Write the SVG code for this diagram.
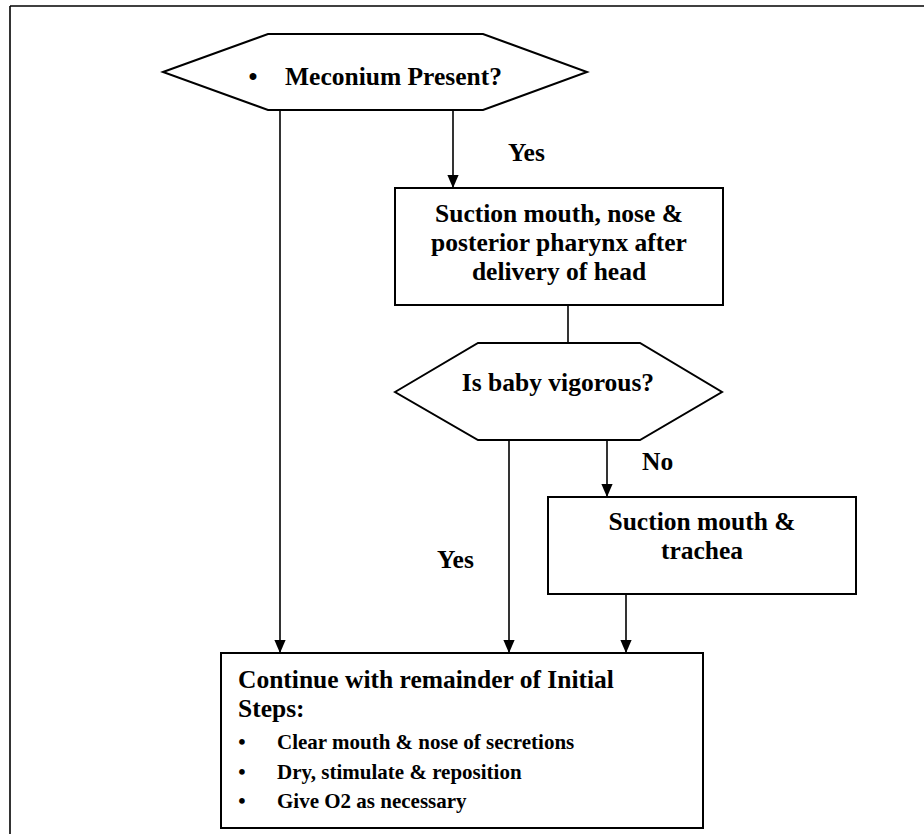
<svg xmlns="http://www.w3.org/2000/svg" width="924" height="834" viewBox="0 0 924 834">
  <defs>
    <marker id="arrowDown" markerUnits="userSpaceOnUse" markerWidth="14" markerHeight="16" refX="15" refY="6.5" orient="auto" viewBox="0 0 16 13">
      <path d="M0,0 L15,6.5 L0,13 Z" fill="#000"/>
    </marker>
  </defs>
  <style>
    .shape { fill: #fff; stroke: #000; stroke-width: 2; }
    .line { fill: none; stroke: #000; stroke-width: 1.6; }
    .arr { marker-end: url(#arrowDown); }
    .t { font-family: "Liberation Serif", "Times New Roman", serif; font-weight: bold; font-size: 25.5px; fill: #000; }
    .s { font-family: "Liberation Serif", "Times New Roman", serif; font-weight: bold; font-size: 21px; fill: #000; }
    .c { text-anchor: middle; }
  </style>
  <rect width="924" height="834" fill="#fff"/>
  <g id="frame">
    <line x1="10" y1="6" x2="924" y2="6" class="line" stroke-width="2"/>
    <line x1="10" y1="6" x2="10" y2="834" class="line" stroke-width="2"/>
  </g>
  <g id="connectors">
    <line x1="280" y1="110" x2="280" y2="653" class="line arr"/>
    <line x1="453" y1="110" x2="453" y2="188" class="line arr"/>
    <line x1="568" y1="305" x2="568" y2="343" class="line"/>
    <line x1="509" y1="440" x2="509" y2="653" class="line arr"/>
    <line x1="607" y1="440" x2="607" y2="497" class="line arr"/>
    <line x1="626" y1="594" x2="626" y2="653" class="line arr"/>
    <text class="t" x="508" y="161">Yes</text>
    <text class="t" x="642" y="470">No</text>
    <text class="t" x="437" y="568">Yes</text>
  </g>
  <g id="meconium">
    <polygon class="shape" points="163,72 268,34 483,34 587,72 483,110 268,110"/>
    <text class="t c" x="253" y="85">•</text>
    <text class="t" x="285" y="85">Meconium Present?</text>
  </g>
  <g id="suction1">
    <rect class="shape" x="395" y="188" width="328" height="117"/>
    <text class="t c" x="559" y="222">Suction mouth, nose &amp;</text>
    <text class="t c" x="559" y="251">posterior pharynx after</text>
    <text class="t c" x="559" y="280">delivery of head</text>
  </g>
  <g id="vigorous">
    <polygon class="shape" points="395,392 478,343 640,343 722,392 640,440 478,440"/>
    <text class="t c" x="558" y="391">Is baby vigorous?</text>
  </g>
  <g id="suction2">
    <rect class="shape" x="548" y="497" width="308" height="97"/>
    <text class="t c" x="702" y="530">Suction mouth &amp;</text>
    <text class="t c" x="702" y="559">trachea</text>
  </g>
  <g id="continue">
    <rect class="shape" x="221" y="653" width="482" height="175"/>
    <text class="t" x="238" y="688">Continue with remainder of Initial</text>
    <text class="t" x="238" y="717">Steps:</text>
    <text class="s c" x="242" y="749">•</text>
    <text class="s" x="277" y="749">Clear mouth &amp; nose of secretions</text>
    <text class="s c" x="242" y="779">•</text>
    <text class="s" x="277" y="779">Dry, stimulate &amp; reposition</text>
    <text class="s c" x="242" y="808">•</text>
    <text class="s" x="277" y="808">Give O2 as necessary</text>
  </g>
</svg>
